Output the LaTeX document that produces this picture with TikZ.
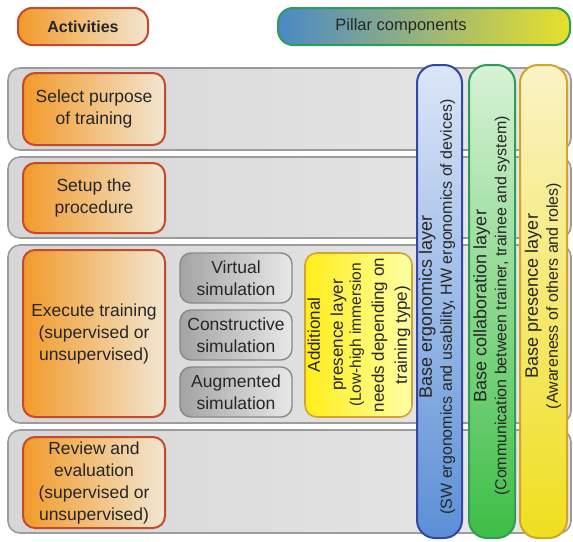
\documentclass[tikz,border=0pt]{standalone}
\usepackage{fontspec}
\setmainfont{Liberation Sans}
\usetikzlibrary{positioning}

\definecolor{actedge}{HTML}{C8482A}
\definecolor{actdark}{HTML}{F29A2A}
\definecolor{actlight}{HTML}{F2E6D2}
\definecolor{bandedge}{HTML}{9C9C9C}
\definecolor{simedge}{HTML}{888888}
\definecolor{bluedge}{HTML}{3446A8}
\definecolor{grnedge}{HTML}{2F9C58}
\definecolor{ylwedge}{HTML}{D2A42E}
\definecolor{bluetop}{HTML}{DCE6F8}
\definecolor{bluebot}{HTML}{5B8FD6}
\definecolor{grntop}{HTML}{D8F2D6}
\definecolor{grnbot}{HTML}{3DBE45}
\definecolor{ylwtop}{HTML}{FAF3C6}
\definecolor{ylwbot}{HTML}{F0DF1E}

\begin{document}
\begin{tikzpicture}[x=1pt,y=-1pt,line join=round,
  every node/.style={text=black!85,font=\fontsize{17.5}{22}\selectfont,align=center},
  band/.style={draw=bandedge,line width=1.6pt,rounded corners=12pt,left color=black!16,right color=black!9},
  activity/.style={draw=actedge,line width=2pt,rounded corners=12pt,left color=actdark,right color=actlight,minimum width=142pt},
  simbox/.style={draw=simedge,line width=1.4pt,rounded corners=11pt,left color=black!36,right color=black!9,minimum width=112pt,minimum height=50pt,inner sep=0pt},
  pillar/.style={line width=2pt,rounded corners=18pt,minimum height=473pt,inner sep=0pt},
  pillartext/.style={rotate=90,font=\fontsize{18}{20}\selectfont}]
\useasboundingbox (0,0) rectangle (573,541);

% headers
\node[activity,minimum width=130pt,minimum height=37pt,rounded corners=14pt,
  font=\fontsize{16}{20}\selectfont\bfseries] (acthead) at (83,26.5) {Activities};
\node[draw=grnedge,line width=2pt,rounded corners=15pt,minimum width=292pt,minimum height=37pt,
  left color={rgb,255:red,74;green,136;blue,200},middle color={rgb,255:red,98;green,178;blue,112},
  right color={rgb,255:red,232;green,224;blue,42}] (pilhead) at (424,26.5) {};
\node[font=\fontsize{16.5}{20}\selectfont] (piltext) at (401,26.5) {Pillar components};

% gray rows
\node[band,minimum width=563pt,minimum height=82pt] (row1) at (289.5,109) {};
\node[band,minimum width=563pt,minimum height=81pt] (row2) at (289.5,197.5) {};
\node[band,minimum width=563pt,minimum height=178pt] (row3) at (289.5,334) {};
\node[band,minimum width=563pt,minimum height=103pt] (row4) at (289.5,481.5) {};

% activities
\node[activity,minimum height=72pt] (select) at (94,109) {Select purpose\\of training};
\node[activity,minimum height=70pt] (setup) at (94,198) {Setup the\\procedure};
\node[activity,minimum height=167pt] (execute) at (94,333.5) {Execute training\\(supervised or\\unsupervised)};
\node[activity,minimum height=91pt] (review) at (94,482.5) {Review and\\evaluation\\(supervised or\\unsupervised)};

% simulation types
\node[simbox] (virtual) at (236,278) {Virtual\\simulation};
\node[simbox] (constructive) at (236,335) {Constructive\\simulation};
\node[simbox] (augmented) at (236,392) {Augmented\\simulation};

% additional presence
\node[draw=ylwedge,line width=1.6pt,rounded corners=12pt,left color=yellow!85!orange!90,right color=yellow!35,
  minimum width=107pt,minimum height=164pt] (addbox) at (358.5,335) {};
\node[rotate=90,font=\fontsize{17}{23}\selectfont] (addtext) at (359,335)
  {Additional\\presence layer\\[-5pt]
   \fontsize{15.5}{18.5}\selectfont (Low-high immersion\\needs depending on\\training type)};

% pillars
\node[pillar,draw=bluedge,top color=bluetop,bottom color=bluebot,minimum width=45pt] (ergo) at (439.5,301.5) {};
\node[pillar,draw=grnedge,top color=grntop,bottom color=grnbot,minimum width=46pt] (collab) at (492,301.5) {};
\node[pillar,draw=ylwedge,top color=ylwtop,bottom color=ylwbot,minimum width=47pt] (presence) at (543.5,301.5) {};

\node[pillartext] (ergotext) at (437,307)
  {Base ergonomics layer\\\fontsize{16}{20}\selectfont(SW ergonomics and usability, HW ergonomics of devices)};
\node[pillartext] (collabtext) at (491.5,306)
  {Base collaboration layer\\\fontsize{16}{20}\selectfont(Communication between trainer, trainee and system)};
\node[pillartext] (presencetext) at (543,296)
  {Base presence layer\\\fontsize{16}{20}\selectfont(Awareness of others and roles)};

\end{tikzpicture}
\end{document}
